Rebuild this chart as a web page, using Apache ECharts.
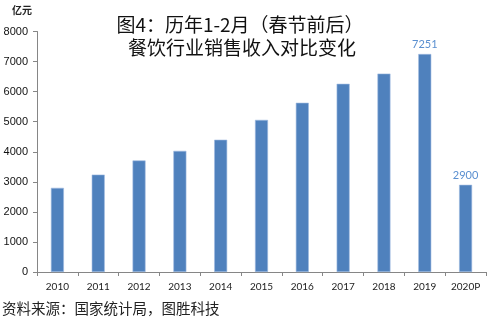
<!DOCTYPE html>
<html>
<head>
<meta charset="utf-8">
<script src="https://cdn.jsdelivr.net/npm/echarts@6/dist/echarts.min.js"></script>
<style>
  html, body { margin: 0; padding: 0; background: #fff; }
  #chart { width: 487px; height: 325px; }
</style>
</head>
<body>
<div id="chart"></div>
<script>
// Catering revenue, January–February of each year (100 million yuan)
const years = ['2010', '2011', '2012', '2013', '2014', '2015', '2016', '2017', '2018', '2019', '2020P'];
const revenue = [2800, 3240, 3710, 4030, 4400, 5060, 5630, 6260, 6600, 7251, 2900];
// Only these bars carry a value label
const labelledYears = ['2019', '2020P'];
const yTicks = [0, 1000, 2000, 3000, 4000, 5000, 6000, 7000, 8000];

const titleLines = ['图4：历年1-2月（春节前后）', '餐饮行业销售收入对比变化'];
const unitText = '亿元';
const sourceText = '资料来源：国家统计局，图胜科技';

const cjk = '"Noto Sans CJK SC", sans-serif';
const barColor = '#4F81BD';
const axisColor = '#868686';

const chart = echarts.init(document.getElementById('chart'), null, { renderer: 'canvas' });

chart.setOption({
  animation: false,
  backgroundColor: '#ffffff',
  grid: { left: 37, right: 1, top: 31.5, bottom: 53, containLabel: false },
  xAxis: {
    type: 'category',
    data: years,
    boundaryGap: true,
    axisLine: { lineStyle: { color: axisColor, width: 1 } },
    axisTick: { show: true, length: 4, alignWithLabel: false, lineStyle: { color: axisColor } },
    axisLabel: { color: '#222', fontFamily: 'Lato, sans-serif', fontSize: 10, margin: 10, interval: 0 }
  },
  yAxis: {
    type: 'value',
    min: yTicks[0],
    max: yTicks[yTicks.length - 1],
    interval: yTicks[1] - yTicks[0],
    splitLine: { show: false },
    axisLine: { show: true, lineStyle: { color: axisColor, width: 1 } },
    axisTick: { show: true, length: 4, lineStyle: { color: axisColor } },
    axisLabel: {
      color: '#111',
      fontFamily: '"Liberation Sans", Arial, sans-serif',
      fontSize: 11,
      margin: 9,
      formatter: v => String(v)
    }
  },
  series: [{
    type: 'bar',
    data: revenue.map((v, i) => ({
      value: v,
      label: { show: labelledYears.includes(years[i]) }
    })),
    barWidth: 13,
    itemStyle: { color: barColor, borderColor: '#9fbbe0', borderWidth: 0.6 },
    label: {
      position: 'top',
      distance: 4,
      color: '#5a8fd0',
      fontFamily: 'Lato, sans-serif',
      fontSize: 11
    }
  }],
  graphic: [
    {
      type: 'text', left: 12, top: 5,
      style: { text: unitText, font: 'bold 10px ' + cjk, fill: '#222' }
    },
    {
      type: 'text', x: 240, y: 25,
      style: { text: titleLines[0], font: '19px ' + cjk, fill: '#111', textAlign: 'center', textVerticalAlign: 'middle' }
    },
    {
      type: 'text', x: 242, y: 48,
      style: { text: titleLines[1], font: '19px ' + cjk, fill: '#111', textAlign: 'center', textVerticalAlign: 'middle' }
    },
    {
      type: 'text', x: 2, y: 308,
      style: { text: sourceText, font: '14.5px ' + cjk, fill: '#222', textVerticalAlign: 'middle' }
    }
  ]
});
</script>
</body>
</html>
